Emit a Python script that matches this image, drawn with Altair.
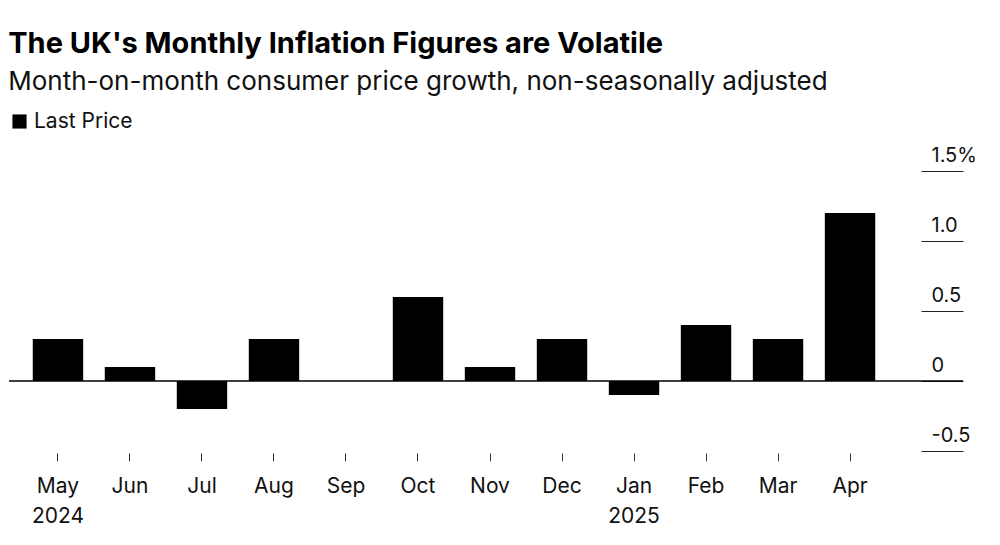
import altair as alt
import pandas as pd

months = ["May", "Jun", "Jul", "Aug", "Sep", "Oct", "Nov", "Dec", "Jan", "Feb", "Mar", "Apr"]
values = [0.3, 0.1, -0.2, 0.3, 0.0, 0.6, 0.1, 0.3, -0.1, 0.4, 0.3, 1.2]
series = ["Last Price"] * len(months)

df = pd.DataFrame({"month": months, "value": values, "series": series})

label_expr = ("datum.value == 'May' ? ['May', '2024'] : "
              "datum.value == 'Jan' ? ['Jan', '2025'] : datum.value")
y_expr = ("datum.value == 1.5 ? '1.5%' : datum.value == 0 ? '0' : "
          "datum.value < 0 ? '-' + format(-datum.value, '.1f') : format(datum.value, '.1f')")

bars = alt.Chart(df).mark_bar(color="black").encode(
    x=alt.X("month:N", sort=months, title=None,
            scale=alt.Scale(paddingInner=0.3, paddingOuter=0.33),
            axis=alt.Axis(domain=False, labelAngle=0, tickSize=8, tickColor="#333",
                          labelExpr=label_expr, labelFontSize=21, labelColor="#111",
                          labelPadding=14, labelLineHeight=30, offset=2)),
    y=alt.Y("value:Q", title=None,
            scale=alt.Scale(domain=[-0.5, 1.5], nice=False),
            axis=alt.Axis(orient="right", values=[-0.5, 0, 0.5, 1.0, 1.5], domain=False,
                          grid=False, tickSize=42, tickColor="#222", labelExpr=y_expr,
                          labelAlign="left", labelBaseline="bottom", labelPadding=-32,
                          labelOffset=-6, labelFontSize=20, labelColor="#111", offset=22)),
    color=alt.Color("series:N", scale=alt.Scale(range=["black"]), title=None,
                    legend=alt.Legend(orient="none", legendX=0, legendY=-60,
                                      symbolType="square", symbolSize=200,
                                      labelFontSize=21, labelColor="#111",
                                      padding=0, direction="horizontal")),
)

zero = alt.Chart(pd.DataFrame({"y": [0]})).mark_rule(color="black", strokeWidth=1.5).encode(
    y="y:Q", x=alt.value(0), x2=alt.value(954)
)

chart = alt.layer(bars, zero).properties(
    width=890, height=280,
    title=alt.Title("The UK's Monthly Inflation Figures are Volatile",
                    subtitle="Month-on-month consumer price growth, non-seasonally adjusted",
                    anchor="start", fontSize=29, fontWeight="bold", subtitleFontSize=26,
                    subtitleColor="#111", subtitlePadding=10, offset=16),
    padding={"left": 0, "top": 22, "right": 0, "bottom": 5},
).configure(font="Inter").configure_view(stroke=None)

chart.save("out.html", embed_options={"renderer": "svg", "actions": False})
